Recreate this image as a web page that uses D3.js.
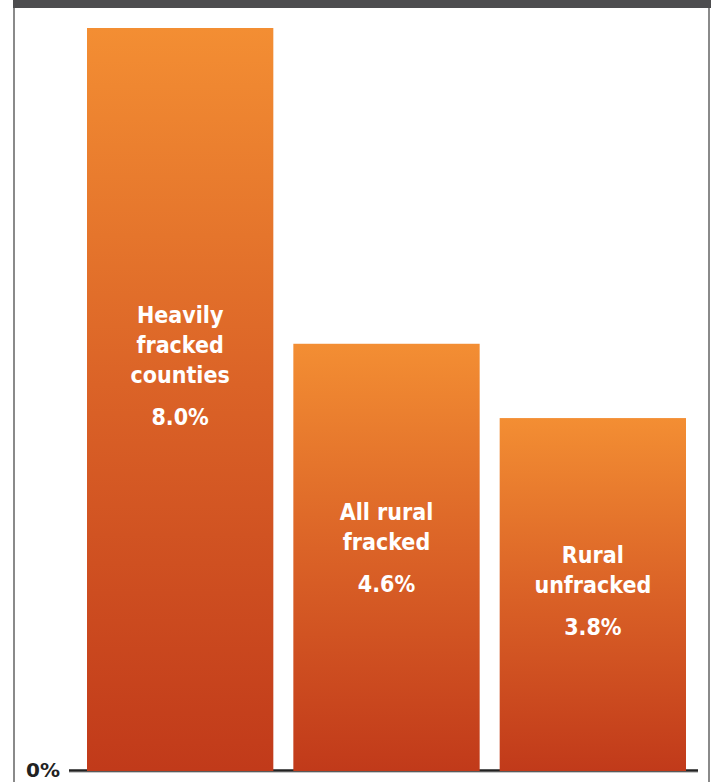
<!DOCTYPE html>
<html>
<head>
<meta charset="utf-8">
<script src="https://cdn.jsdelivr.net/npm/d3@7"></script>
<style>
  html, body { margin: 0; padding: 0; background: #ffffff; }
  svg { display: block; }
</style>
</head>
<body>
<script>
// ---- data ----
const categories = ["Heavily fracked counties", "All rural fracked", "Rural unfracked"];
const labelLines = [["Heavily", "fracked", "counties"], ["All rural", "fracked"], ["Rural", "unfracked"]];
const values = [8.0, 4.6, 3.8];
const valueLabels = ["8.0%", "4.6%", "3.8%"];
const labelAnchor = [4.82, 2.70, 2.24]; // first text line baseline, in data units
const axisTickLabels = ["0%"];

// ---- layout ----
const W = 711, H = 782;
const svg = d3.select("body").append("svg").attr("width", W).attr("height", H);

const x = d3.scaleBand().domain(categories).range([87, 686]).paddingInner(0.097).paddingOuter(0);
const y = d3.scaleLinear().domain([0, 8]).range([771, 28]);

// gradient
const defs = svg.append("defs");
const grad = defs.append("linearGradient").attr("id", "barGrad")
  .attr("x1", 0).attr("y1", 0).attr("x2", 0).attr("y2", 1);
grad.append("stop").attr("offset", "0%").attr("stop-color", "#f38e33");
grad.append("stop").attr("offset", "48%").attr("stop-color", "#db6327");
grad.append("stop").attr("offset", "100%").attr("stop-color", "#c13a1a");

// frame
svg.append("rect").attr("x", 13).attr("y", 0).attr("width", W - 13).attr("height", 8).attr("fill", "#4d4d4f");
svg.append("rect").attr("x", 13).attr("y", 8).attr("width", 2).attr("height", H - 8).attr("fill", "#8a8a8a");
svg.append("rect").attr("x", 708).attr("y", 8).attr("width", 2).attr("height", H - 8).attr("fill", "#8a8a8a");

// baseline
svg.append("line").attr("x1", 69).attr("x2", 698).attr("y1", y(0) - 0.5).attr("y2", y(0) - 0.5)
  .attr("stroke", "#222222").attr("stroke-width", 2.5);
svg.append("line").attr("x1", 69).attr("x2", 698).attr("y1", y(0) + 1.5).attr("y2", y(0) + 1.5)
  .attr("stroke", "#c8c8c8").attr("stroke-width", 1);

// bars
svg.selectAll("rect.bar").data(categories).enter().append("rect")
  .attr("class", "bar")
  .attr("x", d => x(d))
  .attr("width", x.bandwidth())
  .attr("y", (d, i) => y(values[i]))
  .attr("height", (d, i) => y(0) - y(values[i]))
  .attr("fill", "url(#barGrad)");

// labels
const labelFont = "'DejaVu Sans Condensed', 'DejaVu Sans', sans-serif";
categories.forEach((c, i) => {
  const cx = x(c) + x.bandwidth() / 2;
  const y0 = y(labelAnchor[i]);
  const g = svg.append("g");
  labelLines[i].forEach((ln, j) => {
    g.append("text").attr("x", cx).attr("y", y0 + j * 30)
      .attr("text-anchor", "middle").attr("fill", "#ffffff")
      .style("font-family", labelFont).style("font-stretch", "condensed")
      .style("font-weight", "bold").style("font-size", "23px").text(ln);
  });
  g.append("text").attr("x", cx).attr("y", y0 + (labelLines[i].length - 1) * 30 + 42)
    .attr("text-anchor", "middle").attr("fill", "#ffffff")
    .style("font-family", labelFont).style("font-stretch", "condensed")
    .style("font-weight", "bold").style("font-size", "23px").text(valueLabels[i]);
});

// axis label
svg.append("text").attr("x", 60).attr("y", y(0) + 6).attr("text-anchor", "end")
  .attr("fill", "#222222").style("font-family", "'DejaVu Sans', sans-serif")
  .style("font-weight", "bold").style("font-size", "20px").text(axisTickLabels[0]);
</script>
</body>
</html>
